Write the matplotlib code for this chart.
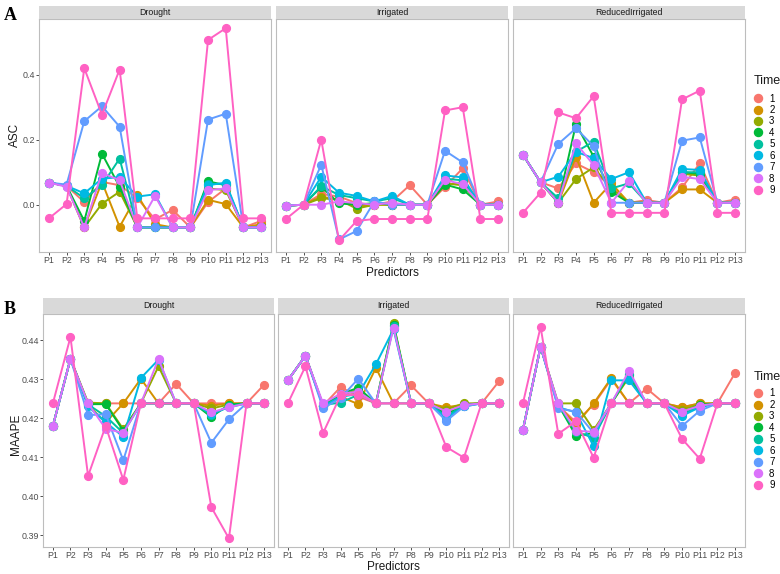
import matplotlib
matplotlib.use("Agg")
import matplotlib.pyplot as plt
from matplotlib.lines import Line2D

W, H = 780, 574

PREDICTORS = [f"P{i}" for i in range(1, 14)]
TIMES = [str(i) for i in range(1, 10)]
FACETS = ["Drought", "Irrigated", "ReducedIrrigated"]
COLORS = ['#F8766D', '#D39200', '#93AA00', '#00BA38', '#00C19F',
          '#00B9E3', '#619CFF', '#DB72FB', '#FF61C3']

# ASC, one row per Time (1..9), one column per predictor (P1..P13)
ASC_DROUGHT = [
    [0.068, 0.058, 0.008, 0.070, 0.060, 0.020, -0.045, -0.016, -0.070, 0.008, 0.050, -0.070, -0.050],
    [0.068, 0.058, -0.070, 0.070, -0.068, 0.030, -0.060, -0.070, -0.070, 0.015, 0.002, -0.070, -0.060],
    [0.068, 0.058, -0.070, 0.003, 0.040, -0.070, -0.070, -0.070, -0.070, 0.050, 0.045, -0.070, -0.070],
    [0.068, 0.058, -0.050, 0.157, 0.055, -0.070, -0.070, -0.070, -0.070, 0.072, 0.060, -0.070, -0.070],
    [0.068, 0.058, 0.020, 0.060, 0.142, -0.070, -0.070, -0.070, -0.070, 0.065, 0.063, -0.070, -0.070],
    [0.068, 0.058, 0.035, 0.080, 0.085, 0.025, 0.032, -0.070, -0.070, 0.060, 0.068, -0.070, -0.070],
    [0.068, 0.062, 0.257, 0.303, 0.240, -0.070, -0.070, -0.070, -0.070, 0.262, 0.280, -0.070, -0.070],
    [0.068, 0.055, -0.070, 0.098, 0.075, -0.070, 0.027, -0.070, -0.070, 0.045, 0.050, -0.070, -0.070],
    [-0.042, 0.002, 0.420, 0.277, 0.416, -0.042, -0.042, -0.042, -0.042, 0.507, 0.543, -0.042, -0.042],
]
ASC_IRRIGATED = [
    [-0.003, 0.0, 0.033, 0.025, 0.005, 0.0, 0.010, 0.060, 0.0, 0.055, 0.112, 0.0, 0.010],
    [-0.003, 0.0, 0.025, 0.015, -0.006, 0.0, 0.0, 0.0, 0.0, 0.060, 0.070, 0.0, 0.0],
    [-0.003, 0.0, 0.020, 0.015, -0.012, 0.0, 0.0, 0.0, 0.0, 0.065, 0.060, 0.0, 0.0],
    [-0.003, 0.0, 0.055, 0.004, 0.0, 0.005, 0.0, 0.0, 0.0, 0.062, 0.047, 0.0, 0.0],
    [-0.003, 0.0, 0.057, 0.030, 0.020, 0.010, 0.020, 0.0, 0.0, 0.080, 0.075, 0.0, 0.0],
    [-0.003, 0.0, 0.086, 0.037, 0.027, 0.010, 0.027, 0.0, 0.0, 0.090, 0.084, 0.0, 0.0],
    [-0.003, 0.0, 0.123, -0.107, -0.081, 0.010, 0.0, 0.0, 0.0, 0.166, 0.130, 0.0, 0.0],
    [-0.003, 0.0, 0.0, 0.010, 0.005, 0.0, 0.006, 0.0, 0.0, 0.076, 0.063, 0.0, 0.0],
    [-0.044, 0.0, 0.200, -0.110, -0.050, -0.044, -0.044, -0.044, -0.044, 0.290, 0.300, -0.044, -0.044],
]
ASC_REDUCED = [
    [0.154, 0.069, 0.050, 0.127, 0.100, 0.057, 0.006, 0.014, 0.006, 0.053, 0.127, 0.006, 0.016],
    [0.154, 0.069, 0.006, 0.148, 0.006, 0.066, 0.006, 0.006, 0.006, 0.047, 0.047, 0.006, 0.006],
    [0.154, 0.069, 0.006, 0.079, 0.115, 0.050, 0.006, 0.006, 0.006, 0.095, 0.090, 0.006, 0.006],
    [0.154, 0.069, 0.006, 0.248, 0.148, 0.040, 0.006, 0.006, 0.006, 0.100, 0.095, 0.006, 0.006],
    [0.154, 0.069, 0.020, 0.163, 0.194, 0.050, 0.066, 0.006, 0.006, 0.100, 0.100, 0.006, 0.006],
    [0.154, 0.069, 0.086, 0.163, 0.143, 0.079, 0.100, 0.006, 0.006, 0.110, 0.107, 0.006, 0.006],
    [0.154, 0.069, 0.187, 0.235, 0.180, 0.006, 0.006, 0.006, 0.006, 0.197, 0.207, 0.006, 0.006],
    [0.154, 0.069, 0.006, 0.189, 0.122, 0.006, 0.073, 0.006, 0.006, 0.086, 0.079, 0.006, 0.006],
    [-0.025, 0.037, 0.284, 0.266, 0.334, -0.025, -0.025, -0.025, -0.025, 0.324, 0.351, -0.025, -0.025],
]

# MAAPE, same layout
MAAPE_DROUGHT = [
    [0.418, 0.4352, 0.4238, 0.4238, 0.4238, 0.4238, 0.4238, 0.4288, 0.4238, 0.4238, 0.4238, 0.4238, 0.4286],
    [0.418, 0.4352, 0.4234, 0.4189, 0.4238, 0.4301, 0.4238, 0.4238, 0.4238, 0.4232, 0.4238, 0.4238, 0.4238],
    [0.418, 0.4352, 0.4240, 0.4238, 0.4172, 0.4238, 0.4333, 0.4238, 0.4238, 0.4225, 0.4235, 0.4238, 0.4238],
    [0.418, 0.4352, 0.4236, 0.4236, 0.4168, 0.4238, 0.4238, 0.4238, 0.4238, 0.4203, 0.4235, 0.4238, 0.4238],
    [0.418, 0.4352, 0.4235, 0.4205, 0.4162, 0.4238, 0.4238, 0.4238, 0.4238, 0.4208, 0.4230, 0.4238, 0.4238],
    [0.418, 0.4352, 0.4230, 0.4190, 0.4152, 0.4303, 0.4350, 0.4238, 0.4238, 0.4212, 0.4228, 0.4238, 0.4238],
    [0.418, 0.4352, 0.4208, 0.4210, 0.4092, 0.4238, 0.4238, 0.4238, 0.4238, 0.4137, 0.4197, 0.4238, 0.4238],
    [0.418, 0.4352, 0.4238, 0.4173, 0.4162, 0.4238, 0.4352, 0.4238, 0.4238, 0.4215, 0.4228, 0.4238, 0.4238],
    [0.4238, 0.4408, 0.4052, 0.4180, 0.4042, 0.4238, 0.4238, 0.4238, 0.4238, 0.3972, 0.3892, 0.4238, 0.4238],
]
MAAPE_IRRIGATED = [
    [0.4297, 0.436, 0.4232, 0.4280, 0.4255, 0.4238, 0.4238, 0.4284, 0.4238, 0.4215, 0.4236, 0.4238, 0.4295],
    [0.4297, 0.436, 0.4232, 0.4255, 0.4236, 0.4329, 0.4238, 0.4238, 0.4238, 0.4228, 0.4235, 0.4238, 0.4238],
    [0.4297, 0.436, 0.4232, 0.4258, 0.4273, 0.4238, 0.4443, 0.4238, 0.4238, 0.4222, 0.4238, 0.4238, 0.4238],
    [0.4297, 0.436, 0.4232, 0.4262, 0.4278, 0.4238, 0.4440, 0.4238, 0.4238, 0.4210, 0.4235, 0.4238, 0.4238],
    [0.4297, 0.436, 0.4234, 0.4240, 0.4260, 0.4238, 0.4435, 0.4238, 0.4238, 0.4205, 0.4232, 0.4238, 0.4238],
    [0.4297, 0.436, 0.4231, 0.4255, 0.4262, 0.4338, 0.4428, 0.4238, 0.4238, 0.4200, 0.4230, 0.4238, 0.4238],
    [0.4297, 0.436, 0.4225, 0.4252, 0.4301, 0.4238, 0.4238, 0.4238, 0.4238, 0.4193, 0.4230, 0.4238, 0.4238],
    [0.4297, 0.436, 0.4238, 0.4263, 0.4268, 0.4238, 0.4432, 0.4238, 0.4238, 0.4217, 0.4234, 0.4238, 0.4238],
    [0.4238, 0.4333, 0.4162, 0.4259, 0.4260, 0.4238, 0.4238, 0.4238, 0.4238, 0.4126, 0.4099, 0.4238, 0.4238],
]
MAAPE_REDUCED = [
    [0.417, 0.4383, 0.4232, 0.4190, 0.4235, 0.4300, 0.4238, 0.4276, 0.4238, 0.4228, 0.4238, 0.4238, 0.4316],
    [0.417, 0.4383, 0.4232, 0.4183, 0.4238, 0.4303, 0.4238, 0.4238, 0.4238, 0.4228, 0.4238, 0.4238, 0.4238],
    [0.417, 0.4383, 0.4238, 0.4238, 0.4170, 0.4238, 0.4305, 0.4238, 0.4238, 0.4222, 0.4236, 0.4238, 0.4238],
    [0.417, 0.4383, 0.4234, 0.4155, 0.4162, 0.4238, 0.4310, 0.4238, 0.4238, 0.4215, 0.4234, 0.4238, 0.4238],
    [0.417, 0.4383, 0.4234, 0.4165, 0.4150, 0.4238, 0.4314, 0.4238, 0.4238, 0.4210, 0.4230, 0.4238, 0.4238],
    [0.417, 0.4383, 0.4228, 0.4215, 0.4128, 0.4297, 0.4297, 0.4238, 0.4238, 0.4206, 0.4228, 0.4238, 0.4238],
    [0.417, 0.4383, 0.4225, 0.4217, 0.4162, 0.4238, 0.4238, 0.4238, 0.4238, 0.4180, 0.4219, 0.4238, 0.4238],
    [0.417, 0.4383, 0.4238, 0.4168, 0.4165, 0.4238, 0.4322, 0.4238, 0.4238, 0.4217, 0.4232, 0.4238, 0.4238],
    [0.4238, 0.4434, 0.4160, 0.4192, 0.4099, 0.4238, 0.4238, 0.4238, 0.4238, 0.4147, 0.4096, 0.4238, 0.4238],
]

ASC_TICKS = [0.0, 0.2, 0.4]
MAAPE_TICKS = [0.39, 0.40, 0.41, 0.42, 0.43, 0.44]

plt.rcParams['font.family'] = ['Liberation Sans', 'DejaVu Sans']


def px_axes(fig, x0, x1, y0, y1):
    return fig.add_axes([x0 / W, 1 - y1 / H, (x1 - x0) / W, (y1 - y0) / H])


def draw_row(fig, data, panels, strip_top, top, bottom, ylim, yticks, yfmt,
             ylabel, ylabel_pos, letter, letter_pos, xlabel_y, title_y,
             legend_top):
    for i, (facet, rows, (x0, x1)) in enumerate(zip(FACETS, data, panels)):
        ax = px_axes(fig, x0, x1, top, bottom)
        x = range(1, 14)
        for row, c in zip(rows, COLORS):
            ax.plot(x, row, color=c, lw=1.4, marker='o', ms=5.6,
                    solid_capstyle='butt', zorder=2)
        ax.set_xlim(0.44, 13.56)
        ax.set_ylim(*ylim)
        ax.set_xticks(list(x))
        ax.set_xticklabels(PREDICTORS)
        ax.tick_params(axis='x', length=2, width=0.6, color='#333333',
                       labelsize=6.3, labelcolor='#4D4D4D', pad=0.8)
        if i == 0:
            ax.set_yticks(yticks)
            ax.set_yticklabels([yfmt.format(t) for t in yticks])
            ax.tick_params(axis='y', length=2, width=0.6, color='#333333',
                           labelsize=6.4, labelcolor='#4D4D4D', pad=1)
        else:
            ax.set_yticks([])
        for s in ax.spines.values():
            s.set_color('#BDBDBD')
            s.set_linewidth(0.8)

        st = px_axes(fig, x0, x1, strip_top, top)
        st.set_facecolor('#D9D9D9')
        st.set_xticks([])
        st.set_yticks([])
        for s in st.spines.values():
            s.set_visible(False)
        st.text(0.5, 0.5, facet, ha='center', va='center', fontsize=6.3,
                color='#1A1A1A', transform=st.transAxes)

    fig.text(ylabel_pos[0] / W, 1 - ylabel_pos[1] / H, ylabel, rotation=90,
             ha='center', va='center', fontsize=8.5, color='#1A1A1A')
    fig.text((panels[1][0] + panels[1][1]) / 2 / W, 1 - xlabel_y / H,
             'Predictors', ha='center', va='center', fontsize=8.5,
             color='#1A1A1A')
    fig.text(letter_pos[0] / W, 1 - letter_pos[1] / H, letter, ha='center',
             va='center', fontsize=13, fontweight='bold',
             family='Liberation Serif')

    # legend
    fig.text(754 / W, 1 - title_y / H, 'Time', ha='left', va='center',
             fontsize=9, color='#1A1A1A')
    handles = [Line2D([], [], ls='none', marker='o', ms=5.8, color=c)
               for c in COLORS]
    fig.legend(handles, TIMES, loc='upper left',
               bbox_to_anchor=(754 / W, 1 - legend_top / H),
               frameon=False, fontsize=7, labelspacing=0.15,
               handlelength=0.8, handletextpad=0.75,
               borderpad=0, borderaxespad=0)


fig = plt.figure(figsize=(W / 100, H / 100), dpi=100)

draw_row(fig, [ASC_DROUGHT, ASC_IRRIGATED, ASC_REDUCED],
         [(39, 271), (276, 508), (513, 745)], 6, 19, 252,
         (-0.1455, 0.5714), ASC_TICKS, '{:.1f}', 'ASC', (15, 135),
         'A', (10, 16), 273, 81, 93.5)
draw_row(fig, [MAAPE_DROUGHT, MAAPE_IRRIGATED, MAAPE_REDUCED],
         [(43, 274), (278, 509), (513, 745)], 298, 314, 547,
         (0.3870, 0.4467), MAAPE_TICKS, '{:.2f}', 'MAAPE', (16, 434),
         'B', (10, 309), 567, 377, 388.5)

fig.savefig('out.png', dpi=100)
